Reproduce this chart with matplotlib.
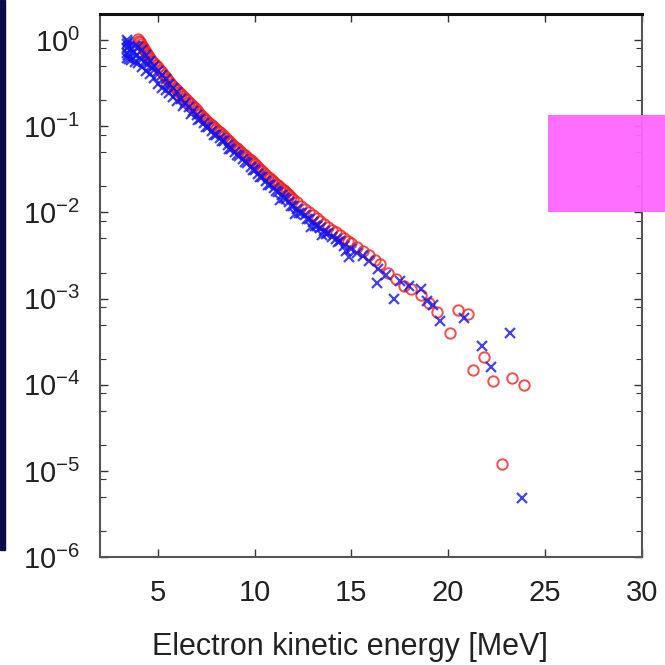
import math
import matplotlib
matplotlib.use("Agg")
import matplotlib.pyplot as plt
from matplotlib.patches import Rectangle
from matplotlib.ticker import LogLocator, NullFormatter, FuncFormatter

plt.rcParams['font.family'] = ['Liberation Sans', 'DejaVu Sans']

# spectrum 1 (red circles)
red_e = [4.0, 4.05, 4.1, 4.15, 4.2, 4.25, 4.3, 4.35, 4.4, 4.45, 4.5, 4.6, 4.7,
         4.8, 4.9, 5.0, 5.1, 5.2, 5.3, 5.4, 5.5, 5.6, 5.7, 5.8, 5.9, 6.0, 6.1,
         6.2, 6.3, 6.4, 6.5, 6.6, 6.7, 6.8, 6.9, 7.0, 7.1, 7.2, 7.3, 7.4, 7.5,
         7.6, 7.7, 7.8, 7.9, 8.0, 8.1, 8.2, 8.3, 8.4, 8.5, 8.6, 8.7, 8.8, 8.9,
         9.0, 9.1, 9.2, 9.3, 9.4, 9.5, 9.6, 9.7, 9.8, 9.9, 10.0, 10.1, 10.2,
         10.3, 10.4, 10.5, 10.6, 10.7, 10.8, 10.9, 11.0, 11.1, 11.2, 11.3, 11.4,
         11.5, 11.6, 11.7, 11.8, 11.9, 12.0, 12.2, 12.4, 12.6, 12.8, 13.0, 13.2,
         13.4, 13.6, 13.8, 14.0, 14.2, 14.4, 14.6, 14.8, 15.0, 15.3, 15.6, 15.9,
         16.2, 16.5, 16.9, 17.3, 17.7, 18.1, 18.6, 19.0, 19.4, 20.1, 20.5, 21.0,
         21.3, 21.85, 22.3, 22.8, 23.3, 23.9]
red_v = [1.02, 0.98, 0.94, 0.90, 0.86, 0.82, 0.78, 0.75, 0.72, 0.69, 0.66, 0.62,
         0.57, 0.54, 0.51, 0.48, 0.45, 0.42, 0.395, 0.37, 0.35, 0.33, 0.31, 0.29,
         0.275, 0.26, 0.248, 0.235, 0.222, 0.21, 0.20, 0.19, 0.18, 0.17, 0.162,
         0.155, 0.147, 0.14, 0.132, 0.125, 0.119, 0.113, 0.107, 0.102, 0.097,
         0.093, 0.089, 0.085, 0.081, 0.077, 0.073, 0.070, 0.067, 0.064, 0.061,
         0.058, 0.0555, 0.053, 0.0505, 0.048, 0.046, 0.044, 0.042, 0.040, 0.038,
         0.036, 0.0345, 0.033, 0.0315, 0.030, 0.0285, 0.027, 0.026, 0.025,
         0.0238, 0.0225, 0.0215, 0.0205, 0.0197, 0.0188, 0.018, 0.0172, 0.0165,
         0.0157, 0.015, 0.0143, 0.0131, 0.0120, 0.0110, 0.0101, 0.0093, 0.0086,
         0.0080, 0.0074, 0.0068, 0.0063, 0.0059, 0.0055, 0.0051, 0.0047, 0.0044,
         0.0040, 0.0036, 0.0032, 0.0028, 0.0025, 0.0020, 0.0017, 0.0014, 0.0013,
         0.0011, 0.0009, 0.0007, 0.0004, 0.00074, 0.00067, 0.00015, 0.00021,
         0.00011, 0.000012, 0.00012, 0.00010]

# spectrum 2 (blue crosses)
blue_e = [3.4, 3.4, 3.4, 3.4, 3.4, 3.45, 3.45, 3.5, 3.5, 3.6, 3.6, 3.7, 3.8, 3.8,
          3.9, 4.0, 4.0, 4.1, 4.2, 4.2, 4.3, 4.4, 4.4, 4.5, 4.6, 4.6, 4.7, 4.8,
          4.8, 5.0, 5.0, 5.2, 5.2, 5.4, 5.4, 5.6, 5.6, 5.8, 5.8, 6.0, 6.0, 6.2,
          6.3, 6.4, 6.6, 6.7, 6.8, 7.0, 7.1, 7.2, 7.4, 7.5, 7.6, 7.8, 7.9, 8.0,
          8.2, 8.3, 8.4, 8.6, 8.7, 8.8, 9.0, 9.1, 9.2, 9.4, 9.5, 9.6, 9.8, 9.9,
          10.0, 10.2, 10.3, 10.4, 10.6, 10.7, 10.8, 11.0, 11.1, 11.2, 11.3, 11.4,
          11.5, 11.6, 11.8, 11.9, 12.0, 12.1, 12.2, 12.3, 12.4, 12.6, 12.7, 12.8,
          12.9, 13.0, 13.1, 13.2, 13.4, 13.5, 13.6, 13.7, 13.8, 14.0, 14.2, 14.3,
          14.4, 14.6, 14.7, 14.9, 15.0, 15.3, 15.6, 15.9, 16.3, 16.4, 16.8, 17.2,
          17.5, 18.0, 18.6, 18.9, 19.2, 19.6, 20.8, 21.75, 22.2, 23.2, 23.8]
blue_v = [1.0, 0.90, 0.80, 0.70, 0.62, 0.95, 0.66, 0.85, 0.60, 0.78, 0.58, 0.70,
          0.85, 0.56, 0.66, 0.82, 0.54, 0.62, 0.76, 0.49, 0.56, 0.66, 0.44, 0.52,
          0.57, 0.40, 0.47, 0.50, 0.36, 0.44, 0.31, 0.39, 0.28, 0.35, 0.26, 0.31,
          0.24, 0.28, 0.215, 0.25, 0.195, 0.205, 0.17, 0.185, 0.165, 0.14, 0.150,
          0.135, 0.118, 0.121, 0.110, 0.098, 0.098, 0.089, 0.080, 0.080, 0.073,
          0.067, 0.067, 0.060, 0.055, 0.055, 0.050, 0.046, 0.045, 0.042, 0.038,
          0.037, 0.034, 0.031, 0.031, 0.028, 0.026, 0.026, 0.023, 0.021, 0.021,
          0.019, 0.0175, 0.0172, 0.014, 0.0160, 0.0145, 0.0142, 0.0133, 0.0118,
          0.0118, 0.0095, 0.0110, 0.0098, 0.0098, 0.0092, 0.0083, 0.0083, 0.0068,
          0.0078, 0.0070, 0.0070, 0.0066, 0.0055, 0.0060, 0.0056, 0.0057, 0.0052,
          0.0049, 0.0045, 0.0046, 0.0041, 0.0036, 0.0030, 0.0038, 0.0034, 0.0031,
          0.0027, 0.0015, 0.0022, 0.0019, 0.0010, 0.0016, 0.0014, 0.0013, 0.00095,
          0.00085, 0.00055, 0.0006, 0.00028, 0.00016, 0.0004, 0.0000049]

x_ticks = [5, 10, 15, 20, 25, 30]


def pow10_label(v, pos):
    return r'$\mathregular{10^{%d}}$' % round(math.log10(v))


fig = plt.figure(figsize=(6.65, 6.65), dpi=100)
ax = fig.add_axes([0.150, 0.162, 0.815, 0.817])

ax.plot(red_e, red_v, 'o', mfc='none', mec='#f02222', mew=1.4, ms=7.5,
        alpha=0.8, linestyle='none')
ax.plot(blue_e, blue_v, 'x', color='#1414ee', mew=1.6, ms=7,
        alpha=0.8, linestyle='none')

ax.set_yscale('log')
ax.set_xlim(2, 30)
ax.set_ylim(1e-6, 2.0)
ax.set_xticks(x_ticks)
ax.set_xticklabels([str(t) for t in x_ticks])
ax.yaxis.set_major_locator(LogLocator(base=10, numticks=10))
ax.yaxis.set_major_formatter(FuncFormatter(pow10_label))
ax.yaxis.set_minor_locator(LogLocator(base=10, subs=(2, 5, 8), numticks=10))
ax.yaxis.set_minor_formatter(NullFormatter())

ax.tick_params(which='both', direction='in', top=True, right=True,
               labelsize=21, colors='#333333', labelcolor='#222222')
ax.tick_params(which='major', length=6, width=1.0)
ax.tick_params(which='minor', length=4, width=0.8)
ax.tick_params(axis='x', pad=16)
ax.tick_params(axis='y', pad=14)

for side in ['left', 'right', 'bottom']:
    ax.spines[side].set_color('#555555')
    ax.spines[side].set_linewidth(1.5)
ax.spines['top'].set_color('#111111')
ax.spines['top'].set_linewidth(2.2)

ax.set_xlabel('Electron kinetic energy [MeV]', fontsize=22, color='#222222',
              labelpad=18)
ax.xaxis.label.set_x(0.461)

# slide decorations around the plot
fig.add_artist(Rectangle((0, 115 / 665), 5 / 665, 1 - 115 / 665,
                         transform=fig.transFigure, color='#0b0b4a', zorder=10))
fig.add_artist(Rectangle((548 / 665, 453 / 665), 117 / 665, 97 / 665,
                         transform=fig.transFigure, color='#ff66ff',
                         alpha=0.95, zorder=10, linewidth=0))

fig.savefig('out.png', dpi=100, facecolor='white')
